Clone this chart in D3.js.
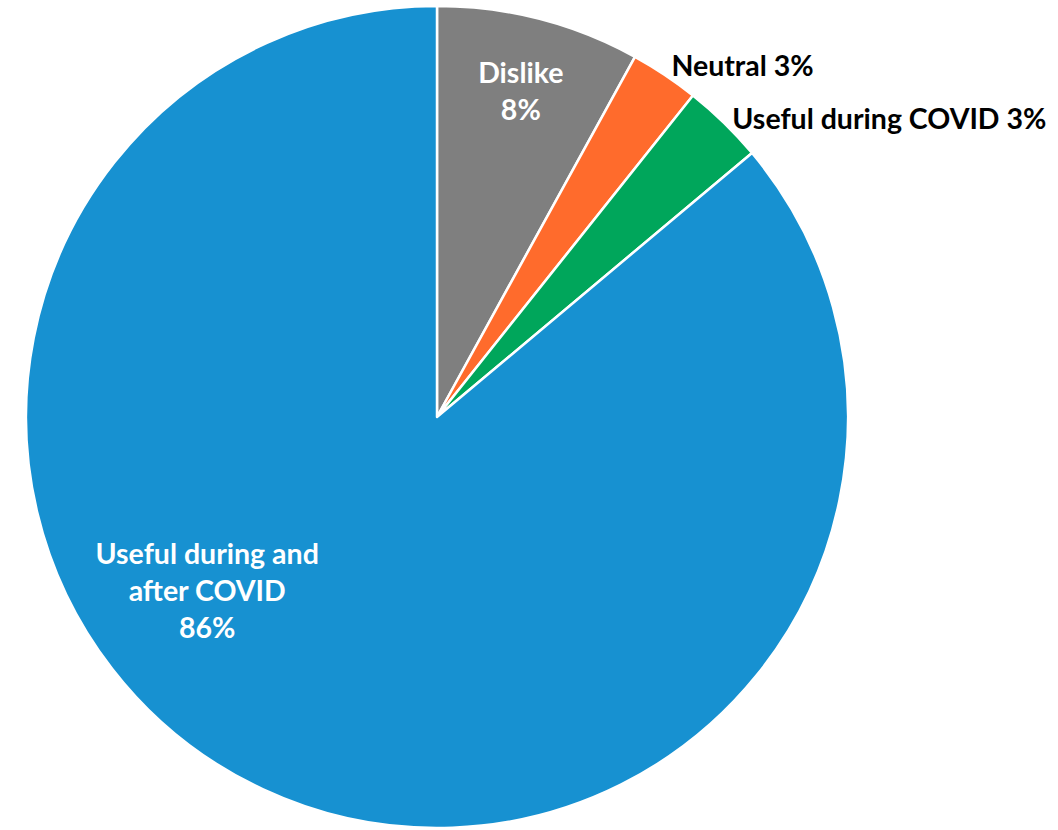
<!DOCTYPE html>
<html lang="en">
<head>
  <meta charset="UTF-8">
  <title>Pie chart</title>
  <style>
    body { margin: 0; background: #fff; }
    text { font-family: Lato, "Open Sans", sans-serif; font-weight: 700; }
  </style>
  <script src="https://d3js.org/d3.v7.min.js"></script>
</head>
<body>
  <div id="chart"></div>
  <script>
    // data (clockwise from 12 o'clock)
    var categories = ['Dislike', 'Neutral', 'Useful during COVID', 'Useful during and after COVID'];
    var shares = [8.0, 2.7, 3.2, 86.1];
    var pctLabels = ['8%', '3%', '3%', '86%'];
    var colors = ['#7f7f7f', '#ff6b2c', '#00a65b', '#1791d1'];

    var width = 1058, height = 830;
    var cx = 437, cy = 417, radius = 411;

    var svg = d3.select('#chart').append('svg')
      .attr('width', width)
      .attr('height', height);

    var g = svg.append('g').attr('transform', 'translate(' + cx + ',' + cy + ')');

    var rows = categories.map(function(c, i) {
      return {name: c, value: shares[i], pct: pctLabels[i], color: colors[i]};
    });

    var pie = d3.pie().sort(null).value(function(d) { return d.value; });
    var arc = d3.arc().innerRadius(0).outerRadius(radius);
    var arcs = pie(rows);

    g.selectAll('path.slice').data(arcs).enter().append('path')
      .attr('class', 'slice')
      .attr('d', arc)
      .attr('fill', function(d) { return d.data.color; })
      .attr('stroke', '#fff')
      .attr('stroke-width', 2.5)
      .attr('stroke-linejoin', 'round');

    // label placement: inside (multi-line, white) or outside (one line, black)
    var place = [
      {inside: true, rf: 0.82, shift: 0, lines: ['Dislike', '8%']},
      {inside: false, rOut: 12, dy: 0},
      {inside: false, rOut: 12, dy: 4},
      {inside: true, rf: 0.70, shift: 28, lines: ['Useful during and', 'after COVID', '86%']}
    ];
    var fontSize = 28.5, lineH = 37;

    function polar(r, a) { return [r * Math.sin(a), -r * Math.cos(a)]; }

    arcs.forEach(function(d, i) {
      var p = place[i];
      var mid = (d.startAngle + d.endAngle) / 2;
      if (p.inside) {
        var pt = polar(radius * p.rf, mid + p.shift * Math.PI / 180);
        var n = p.lines.length;
        var t = g.append('text')
          .attr('text-anchor', 'middle')
          .attr('fill', '#fff')
          .attr('font-size', fontSize);
        p.lines.forEach(function(l, k) {
          t.append('tspan')
            .attr('x', pt[0])
            .attr('y', pt[1] + (k - (n - 1) / 2) * lineH)
            .attr('dominant-baseline', 'central')
            .text(l);
        });
      } else {
        var po = polar(radius + p.rOut, mid);
        g.append('text')
          .attr('x', po[0])
          .attr('y', po[1] + p.dy)
          .attr('dominant-baseline', 'central')
          .attr('text-anchor', 'start')
          .attr('fill', '#000')
          .attr('font-size', fontSize)
          .text(d.data.name + ' ' + d.data.pct);
      }
    });
  </script>
</body>
</html>
